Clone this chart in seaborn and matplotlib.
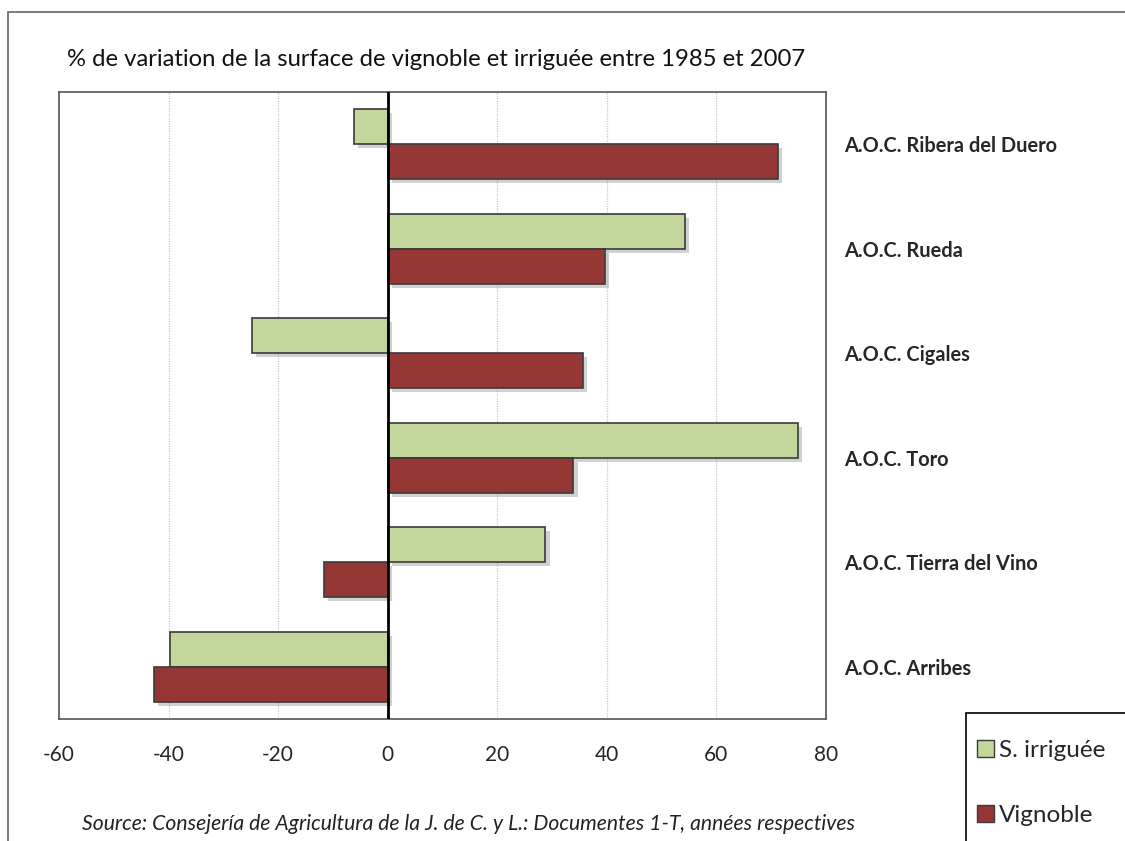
import pandas as pd
import matplotlib.pyplot as plt
import matplotlib.patheffects as pe
from matplotlib.patches import Rectangle, Patch
import seaborn as sns

# Données
categories = ["A.O.C. Ribera del Duero", "A.O.C. Rueda", "A.O.C. Cigales",
              "A.O.C. Toro", "A.O.C. Tierra del Vino", "A.O.C. Arribes"]
irriguee = [-6.2, 54.2, -24.8, 74.8, 28.8, -39.8]
vignoble = [71.2, 39.6, 35.6, 33.9, -11.7, -42.7]
series = ["S. irriguée", "Vignoble"]
colors = {"S. irriguée": "#C3D69B", "Vignoble": "#953735"}

df = pd.DataFrame({
    "cat": categories * 2,
    "serie": [series[0]] * len(categories) + [series[1]] * len(categories),
    "val": irriguee + vignoble,
})

sns.set_theme(style="white")
plt.rcParams["font.family"] = ["Lato", "DejaVu Sans"]
plt.rcParams["axes.unicode_minus"] = False

W, H = 1125, 841
fig = plt.figure(figsize=(W / 100, H / 100), dpi=100)
ax = fig.add_axes([59 / W, 1 - 719 / H, (826 - 59) / W, (719 - 92) / H])

sns.barplot(data=df, y="cat", x="val", hue="serie", order=categories,
            hue_order=series, palette=colors, orient="h", width=0.67, gap=0,
            edgecolor="#3a3a3a", linewidth=1.2, saturation=1, ax=ax, legend=False)

shadow = [pe.SimplePatchShadow(offset=(3, -3), shadow_rgbFace="#999999", alpha=0.45), pe.Normal()]
for p in ax.patches:
    p.set_path_effects(shadow)

ax.set_xlim(-60, 80)
ax.set_xticks(range(-60, 81, 20))
ax.grid(axis="x", color="#c8c8c8", linestyle=(0, (1, 1)), linewidth=0.9)
ax.set_axisbelow(True)
ax.axvline(0, color="black", linewidth=2, zorder=5)
ax.set_xlabel("")
ax.set_ylabel("")
ax.yaxis.tick_right()
ax.tick_params(axis="y", length=0, pad=13, labelsize=14.4)
ax.tick_params(axis="x", length=0, pad=19, labelsize=15)
for lbl in ax.get_yticklabels():
    lbl.set_fontweight("bold")
for s in ax.spines.values():
    s.set_color("#555555")
    s.set_linewidth(1.2)

fig.text(67 / W, 1 - 60 / H, "% de variation de la surface de vignoble et irriguée entre 1985 et 2007",
         fontsize=17.2, va="center", ha="left", color="#111111")
fig.text(468 / W, 1 - 824 / H,
         "Source: Consejería de Agricultura de la J. de C. y L.: Documentes 1-T, années respectives",
         fontsize=15.2, style="italic", ha="center", va="center", color="#222222")

# cadre de la figure
fig.add_artist(Rectangle((8 / W, -0.1), 1.2, 1 - 12 / H + 0.1, transform=fig.transFigure,
                         fill=False, edgecolor="#666666", linewidth=1.2))
# cadre de la légende (coupé par le bord de l'image)
fig.add_artist(Rectangle((966 / W, -0.1), 1.2, 1 - 713 / H + 0.1, transform=fig.transFigure,
                         fill=True, facecolor="white", edgecolor="black", linewidth=1.2, zorder=3))

handles = [Patch(facecolor=colors[s], edgecolor="#3a3a3a", label=s) for s in series]
leg = fig.legend(handles=handles, loc="upper left", bbox_to_anchor=(977 / W, 1 - 740 / H),
                 frameon=False, fontsize=17.5, labelspacing=1.8,
                 handlelength=0.7, handleheight=0.7, handletextpad=0.2,
                 borderpad=0, borderaxespad=0)
leg.set_zorder(4)

fig.savefig("out.png", dpi=100, facecolor="white")
